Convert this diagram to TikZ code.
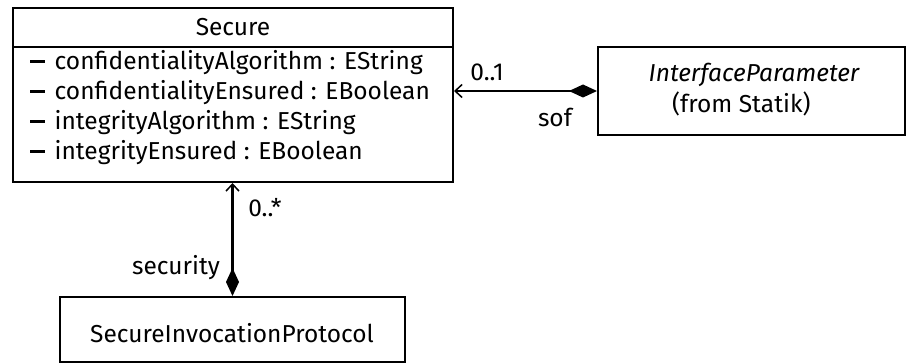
\documentclass[tikz,border=0pt]{standalone}
\usepackage{fontspec}
\setmainfont{Fira Sans}
\usetikzlibrary{arrows.meta}
\tikzset{
  navtip/.tip={Straight Barb[length=7pt,width=13pt,line width=1.5pt]},
  comptip/.tip={Diamond[length=28pt,width=13pt]}}
% private-visibility marker in front of an attribute
\newcommand{\privmark}{\rule[7.2pt]{15pt}{3pt}\hspace{9.5pt}}
\begin{document}
\begin{tikzpicture}[x=1pt,y=-1pt,
  umlbox/.style={draw, line width=2pt, inner sep=0pt},
  lbl/.style={font=\fontsize{24.5}{28}\selectfont, inner sep=0pt},
  assoc/.style={line width=2.2pt}]
\useasboundingbox (0,0) rectangle (915,363);
% Secure class with attribute compartment
\node[umlbox, minimum width=440pt, minimum height=174pt] (secure) at (233,95) {};
\draw[line width=2pt] (13,47) -- (453,47);
\node[lbl] (securetitle) at (233,27) {Secure};
\node[lbl, anchor=west] (a1) at (30,63) {\privmark confidentialityAlgorithm : EString};
\node[lbl, anchor=west] (a2) at (30,93) {\privmark confidentialityEnsured : EBoolean};
\node[lbl, anchor=west] (a3) at (30,123) {\privmark integrityAlgorithm : EString};
\node[lbl, anchor=west] (a4) at (30,153) {\privmark integrityEnsured : EBoolean};
% InterfaceParameter
\node[umlbox, minimum width=307pt, minimum height=88pt] (iface) at (751.5,91) {};
\node[lbl] (ifname) at (754,75) {\itshape InterfaceParameter};
\node[lbl, anchor=west] (iffrom) at (672,104) {(from Statik)};
% SecureInvocationProtocol
\node[umlbox, minimum width=345pt, minimum height=65pt] (sip) at (232.5,329.5) {};
\node[lbl] (sipname) at (232,333) {SecureInvocationProtocol};
% associations
\coordinate (sofend) at (secure.east |- iface.west);
\draw[assoc, navtip-comptip] (sofend) -- (iface.west);
\node[lbl] (m1) at (487,72) {0..1};
\node[lbl] (sof) at (555,117) {sof};
\draw[assoc, navtip-comptip] (secure.south -| sip.north) -- (sip.north);
\node[lbl] (m2) at (265,208) {0..*};
\node[lbl, anchor=east] (sec) at (220,268) {security};
\end{tikzpicture}
\end{document}
